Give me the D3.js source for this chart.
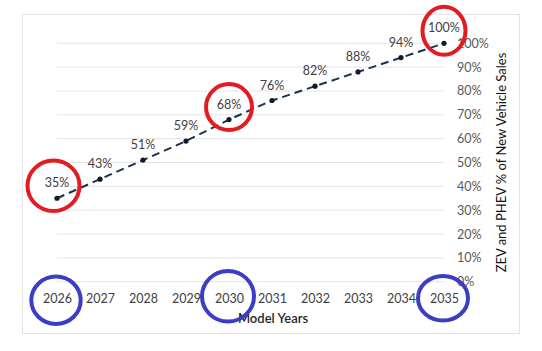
<!DOCTYPE html>
<html>
<head>
<meta charset="utf-8">
<script src="https://cdn.jsdelivr.net/npm/d3@7"></script>
<style>
  html, body { margin: 0; padding: 0; background: #fff; }
  svg { display: block; font-family: Lato, "Open Sans", sans-serif; }
</style>
</head>
<body>
<svg id="chart" width="542" height="351"></svg>
<script>
// ---- data ----
const years = ["2026","2027","2028","2029","2030","2031","2032","2033","2034","2035"];
const shares = [35, 43, 51, 59, 68, 76, 82, 88, 94, 100];
const yTicks = [0,10,20,30,40,50,60,70,80,90,100];
const xTitle = "Model Years";
const yTitle = "ZEV and PHEV % of New Vehicle Sales";
const redCircled = ["2026","2030","2035"];
const blueCircled = ["2026","2030","2035"];

// ---- layout ----
const svg = d3.select("#chart");
const plotLeft = 57, plotRight = 444, plotTop = 43.3, plotBottom = 281.7;

svg.append("rect").attr("x", 0).attr("y", 0).attr("width", 542).attr("height", 351).attr("fill", "#fff");
svg.append("rect").attr("x", 22.5).attr("y", 14.5).attr("width", 497).attr("height", 319)
  .attr("fill", "none").attr("stroke", "#e3e3e3").attr("stroke-width", 1);

const x = d3.scalePoint().domain(years).range([plotLeft, plotRight]).padding(0);
const y = d3.scaleLinear().domain([0, 100]).range([plotBottom, plotTop]);

// gridlines
svg.append("g").selectAll("line").data(yTicks).join("line")
  .attr("x1", plotLeft).attr("x2", plotRight)
  .attr("y1", d => y(d)).attr("y2", d => y(d))
  .attr("stroke", "#e4e4e4").attr("stroke-width", 1);

// right y axis
const yAxis = svg.append("g").attr("transform", `translate(${plotRight},0)`)
  .call(d3.axisRight(y).tickValues(yTicks).tickFormat(d => d + "%").tickSize(0).tickPadding(13));
yAxis.select(".domain").remove();
yAxis.selectAll("text").attr("fill", "#595959").style("font-size", "12.5px").style("font-family", "Lato, sans-serif");

// x axis
const xAxis = svg.append("g").attr("transform", `translate(0,${plotBottom})`)
  .call(d3.axisBottom(x).tickSize(0).tickPadding(12.4));
xAxis.select(".domain").remove();
xAxis.selectAll("text").attr("fill", "#404040").style("font-size", "12.5px").style("font-family", "Lato, sans-serif");

// line
const line = d3.line().x((d, i) => x(years[i])).y(d => y(d));
svg.append("path").datum(shares)
  .attr("d", line).attr("fill", "none")
  .attr("stroke", "#1c3152").attr("stroke-width", 2)
  .attr("stroke-dasharray", "8,5");

// points
svg.append("g").selectAll("circle").data(shares).join("circle")
  .attr("cx", (d, i) => x(years[i])).attr("cy", d => y(d))
  .attr("r", 2.6).attr("fill", "#111a2a");

// data labels
svg.append("g").selectAll("text").data(shares).join("text")
  .attr("x", (d, i) => x(years[i])).attr("y", d => y(d) - 11)
  .attr("text-anchor", "middle")
  .attr("fill", "#404040").style("font-size", "12.5px")
  .text(d => d + "%");

// titles
svg.append("text").attr("x", 273).attr("y", 323).attr("text-anchor", "middle")
  .attr("fill", "#262626").style("font-size", "13px").style("font-weight", "600")
  .text(xTitle);
svg.append("text").attr("transform", `translate(506,${(plotTop + plotBottom) / 2}) rotate(-90)`)
  .attr("text-anchor", "middle").attr("fill", "#111")
  .style("font-size", "13px").style("font-weight", "normal")
  .text(yTitle);

// annotation circles
svg.append("g").selectAll("ellipse").data(redCircled).join("ellipse")
  .attr("cx", (d, i) => x(d) - (i === 0 ? 3.5 : 0))
  .attr("cy", d => {
    const v = shares[years.indexOf(d)];
    return Math.max(y(v) - 12.5, 26);
  })
  .attr("rx", (d, i) => i === 0 ? 26 : (i === 2 ? 21.5 : 23))
  .attr("ry", (d, i) => i === 0 ? 25.3 : (i === 2 ? 24 : 23))
  .attr("fill", "none").attr("stroke", "#e31b23").attr("stroke-width", 4);

svg.append("g").selectAll("ellipse").data(blueCircled).join("ellipse")
  .attr("cx", d => x(d) - 1)
  .attr("cy", (d, i) => [300.3, 296.3, 298.3][i])
  .attr("rx", (d, i) => [24.7, 26, 25][i])
  .attr("ry", (d, i) => [23.7, 25.3, 22.3][i])
  .attr("fill", "none").attr("stroke", "#3b3ec4").attr("stroke-width", 4);
</script>
</body>
</html>
